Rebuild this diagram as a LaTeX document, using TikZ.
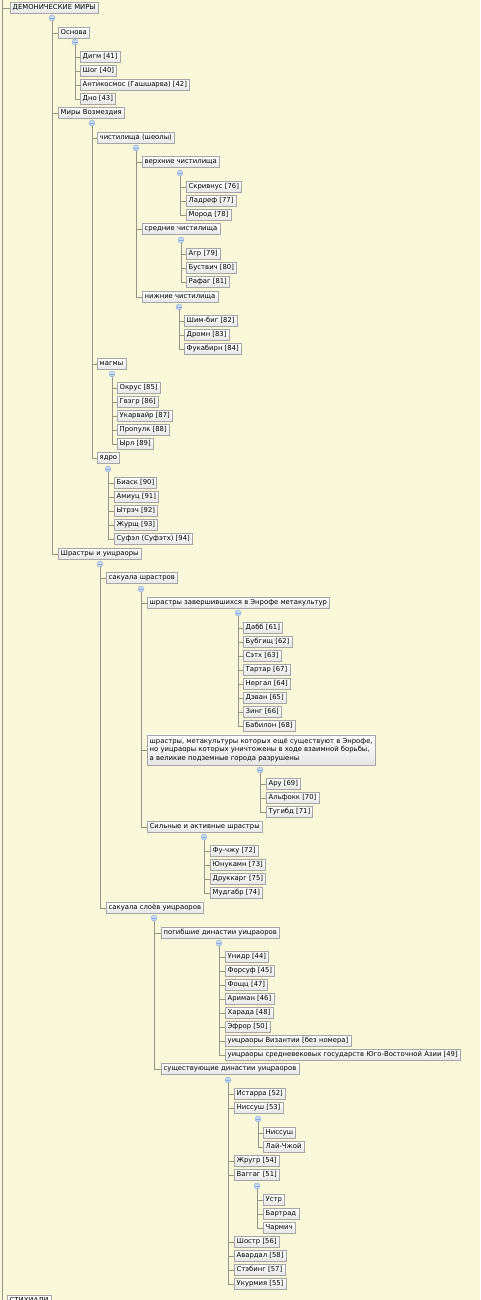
\documentclass[tikz,border=0pt]{standalone}
\usepackage{fontspec}
\setmainfont{DejaVu Sans}
\definecolor{paper}{RGB}{250,248,218}
\definecolor{twig}{RGB}{150,148,130}
\definecolor{knobfill}{RGB}{200,218,242}
\definecolor{knobline}{RGB}{140,170,215}
\tikzset{
    nodebox/.style={draw=black!35, top color=white, bottom color=black!10,
        inner xsep=2.5pt, inner ysep=2pt, anchor=west,
        font=\fontsize{6.85}{8.5}\selectfont},
    topic/.style={nodebox, text height=5.3pt, text depth=1.6pt},
    knob/.style={circle, draw=knobline, fill=knobfill, minimum size=6pt, inner sep=0pt,
        path picture={\draw[knobline, line width=0.6pt]
            ([xshift=1.4pt]path picture bounding box.west) --
            ([xshift=-1.4pt]path picture bounding box.east);}},
    link/.style={draw=twig, line width=0.8pt}
}
\begin{document}
\begin{tikzpicture}[x=1pt, y=-1pt]
    \useasboundingbox (0,0) rectangle (480,1300);
    \clip (0,0) rectangle (480,1300);
    \fill[paper] (0,0) rectangle (480,1300);
    % top level
    \coordinate (root) at (2,-6);
    \node[topic] (demon) at (10,8) {ДЕМОНИЧЕСКИЕ МИРЫ};
    \node[knob] (k-demon) at (52,18) {};
    \node[topic] (stih) at (7,1301) {СТИХИАЛИ};
    \draw[link] (root) |- (demon.west);
    \draw[link] (root) |- (stih.west);
    % Основа
    \node[topic] (osnova) at (58,33) {Основа};
    \node[knob] (k-osnova) at (75,42) {};
    \node[topic] (digm) at (80,57) {Дигм [41]};
    \node[topic] (shog) at (80,71) {Шог [40]};
    \node[topic] (anti) at (80,85) {Антикосмос (Гашшарва) [42]};
    \node[topic] (dno) at (80,99) {Дно [43]};
    \draw[link] (k-demon) |- (osnova.west);
    \foreach \n in {digm,shog,anti,dno}
        \draw[link] (k-osnova) |- (\n.west);
    % Миры Возмездия
    \node[topic] (vozm) at (58,113) {Миры Возмездия};
    \node[knob] (k-vozm) at (92,123) {};
    \draw[link] (k-demon) |- (vozm.west);
    % чистилища
    \node[topic] (chist) at (97,138) {чистилища (шеолы)};
    \node[knob] (k-chist) at (136,148) {};
    \draw[link] (k-vozm) |- (chist.west);
    \node[topic] (verh) at (142,162) {верхние чистилища};
    \node[knob] (k-verh) at (180,173) {};
    \node[topic] (skriv) at (186,187) {Скривнус [76]};
    \node[topic] (ladref) at (186,201) {Ладреф [77]};
    \node[topic] (morod) at (186,215) {Мород [78]};
    \node[topic] (sred) at (142,229) {средние чистилища};
    \node[knob] (k-sred) at (181,240) {};
    \node[topic] (agr) at (186,254) {Агр [79]};
    \node[topic] (bustv) at (186,268) {Буствич [80]};
    \node[topic] (rafag) at (186,282) {Рафаг [81]};
    \node[topic] (nizh) at (142,297) {нижние чистилища};
    \node[knob] (k-nizh) at (179,307) {};
    \node[topic] (shim) at (184,321) {Шим-биг [82]};
    \node[topic] (dromn) at (184,335) {Дромн [83]};
    \node[topic] (fuka) at (184,349) {Фукабирн [84]};
    \foreach \n in {verh,sred,nizh}
        \draw[link] (k-chist) |- (\n.west);
    \foreach \n in {skriv,ladref,morod}
        \draw[link] (k-verh) |- (\n.west);
    \foreach \n in {agr,bustv,rafag}
        \draw[link] (k-sred) |- (\n.west);
    \foreach \n in {shim,dromn,fuka}
        \draw[link] (k-nizh) |- (\n.west);
    % магмы
    \node[topic] (magmy) at (97,364) {магмы};
    \node[knob] (k-magmy) at (112,374) {};
    \node[topic] (okrus) at (117,388) {Окрус [85]};
    \node[topic] (gvegr) at (117,402) {Гвэгр [86]};
    \node[topic] (ukarv) at (117,416) {Укарвайр [87]};
    \node[topic] (propulk) at (117,430) {Пропулк [88]};
    \node[topic] (yrl) at (117,444) {Ырл [89]};
    \draw[link] (k-vozm) |- (magmy.west);
    \foreach \n in {okrus,gvegr,ukarv,propulk,yrl}
        \draw[link] (k-magmy) |- (\n.west);
    % ядро
    \node[topic] (yadro) at (97,458) {ядро};
    \node[knob] (k-yadro) at (108,469) {};
    \node[topic] (biask) at (114,483) {Биаск [90]};
    \node[topic] (amiuc) at (114,497) {Амиуц [91]};
    \node[topic] (ytrech) at (114,511) {Ытрэч [92]};
    \node[topic] (zhursch) at (114,525) {Журщ [93]};
    \node[topic] (sufel) at (114,539) {Суфэл (Суфэтх) [94]};
    \draw[link] (k-vozm) |- (yadro.west);
    \foreach \n in {biask,amiuc,ytrech,zhursch,sufel}
        \draw[link] (k-yadro) |- (\n.west);
    % Шрастры и уицраоры
    \node[topic] (shras) at (58,554) {Шрастры и уицраоры};
    \node[knob] (k-shras) at (100,564) {};
    \draw[link] (k-demon) |- (shras.west);
    % сакуала шрастров
    \node[topic] (saksh) at (106,578) {сакуала шрастров};
    \node[knob] (k-saksh) at (141,589) {};
    \draw[link] (k-shras) |- (saksh.west);
    \node[topic] (zav) at (147,603) {шрастры завершившихся в Энрофе метакультур};
    \node[knob] (k-zav) at (238,613) {};
    \node[topic] (dabb) at (243,628) {Дабб [61]};
    \node[topic] (bubg) at (243,642) {Бубгищ [62]};
    \node[topic] (setkh) at (243,656) {Сэтх [63]};
    \node[topic] (tartar) at (243,670) {Тартар [67]};
    \node[topic] (nergal) at (243,684) {Нергал [64]};
    \node[topic] (devan) at (243,698) {Дэван [65]};
    \node[topic] (zing) at (243,712) {Зинг [66]};
    \node[topic] (babil) at (243,726) {Бабилон [68]};
    \node[nodebox, align=left, inner ysep=3.5pt] (still) at (147,750)
        {шрастры, метакультуры которых ещё существуют в Энрофе,\\
         но уицраоры которых уничтожены в ходе взаимной борьбы,\\
         а великие подземные города разрушены};
    \node[knob] (k-still) at (260,770) {};
    \node[topic] (aru) at (266,784) {Ару [69]};
    \node[topic] (alfokk) at (266,798) {Альфокк [70]};
    \node[topic] (tugibd) at (266,812) {Тугибд [71]};
    \node[topic] (silnye) at (147,827) {Сильные и активные шрастры};
    \node[knob] (k-silnye) at (204,837) {};
    \node[topic] (fuchzhu) at (210,851) {Фу-чжу [72]};
    \node[topic] (yunuk) at (210,865) {Юнукамн [73]};
    \node[topic] (drukk) at (210,879) {Друккарг [75]};
    \node[topic] (mudg) at (210,893) {Мудгабр [74]};
    \foreach \n in {zav,still,silnye}
        \draw[link] (k-saksh) |- (\n.west);
    \foreach \n in {dabb,bubg,setkh,tartar,nergal,devan,zing,babil}
        \draw[link] (k-zav) |- (\n.west);
    \foreach \n in {aru,alfokk,tugibd}
        \draw[link] (k-still) |- (\n.west);
    \foreach \n in {fuchzhu,yunuk,drukk,mudg}
        \draw[link] (k-silnye) |- (\n.west);
    % сакуала слоёв уицраоров
    \node[topic] (saku) at (106,908) {сакуала слоёв уицраоров};
    \node[knob] (k-saku) at (154,918) {};
    \draw[link] (k-shras) |- (saku.west);
    \node[topic] (pogib) at (161,933) {погибшие династии уицраоров};
    \node[knob] (k-pogib) at (219,943) {};
    \node[topic] (unidr) at (225,957) {Унидр [44]};
    \node[topic] (forsuf) at (225,971) {Форсуф [45]};
    \node[topic] (foshc) at (225,985) {Фощц [47]};
    \node[topic] (ariman) at (225,999) {Ариман [46]};
    \node[topic] (harada) at (225,1013) {Харада [48]};
    \node[topic] (efror) at (225,1027) {Эфрор [50]};
    \node[topic] (vizant) at (225,1041) {уицраоры Византии [без номера]};
    \node[topic] (asia) at (225,1055) {уицраоры средневековых государств Юго-Восточной Азии [49]};
    \foreach \n in {unidr,forsuf,foshc,ariman,harada,efror,vizant,asia}
        \draw[link] (k-pogib) |- (\n.west);
    \node[topic] (sush) at (161,1069) {существующие династии уицраоров};
    \node[knob] (k-sush) at (228,1080) {};
    \node[topic] (istarra) at (234,1094) {Истарра [52]};
    \node[topic] (nissush) at (234,1108) {Ниссуш [53]};
    \node[knob] (k-nissush) at (258,1119) {};
    \node[topic] (nissush2) at (263,1133) {Ниссуш};
    \node[topic] (laichzhoi) at (263,1147) {Лай-Чжой};
    \node[topic] (zhrugr) at (234,1161) {Жругр [54]};
    \node[topic] (vaggag) at (234,1175) {Ваггаг [51]};
    \node[knob] (k-vaggag) at (257,1186) {};
    \node[topic] (ustr) at (263,1200) {Устр};
    \node[topic] (bartrad) at (263,1214) {Бартрад};
    \node[topic] (charmich) at (263,1228) {Чармич};
    \node[topic] (shostr) at (234,1242) {Шостр [56]};
    \node[topic] (avardal) at (234,1256) {Авардал [58]};
    \node[topic] (stebing) at (234,1270) {Стэбинг [57]};
    \node[topic] (ukurm) at (234,1284) {Укурмия [55]};
    \foreach \n in {pogib,sush}
        \draw[link] (k-saku) |- (\n.west);
    \foreach \n in {istarra,nissush,zhrugr,vaggag,shostr,avardal,stebing,ukurm}
        \draw[link] (k-sush) |- (\n.west);
    \foreach \n in {nissush2,laichzhoi}
        \draw[link] (k-nissush) |- (\n.west);
    \foreach \n in {ustr,bartrad,charmich}
        \draw[link] (k-vaggag) |- (\n.west);
\end{tikzpicture}
\end{document}
